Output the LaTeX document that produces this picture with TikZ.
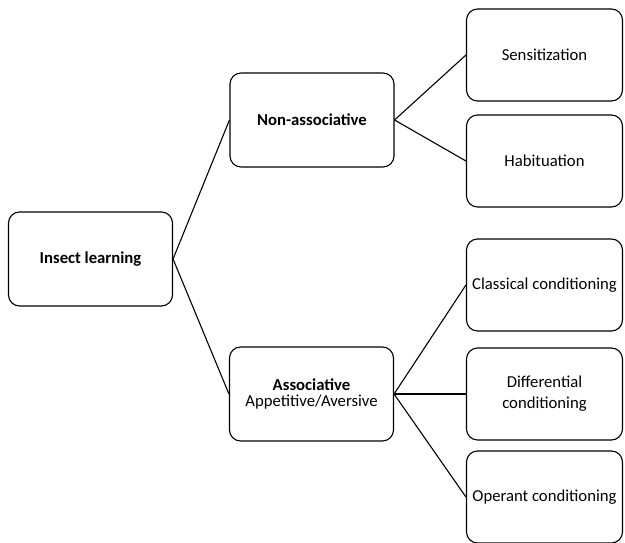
\documentclass[tikz,border=0pt]{standalone}
\usepackage{fontspec}
\setmainfont{Carlito}
\begin{document}
\begin{tikzpicture}[x=1pt,y=-1pt,
	box/.style={draw,line width=1.1pt,rounded corners=11pt,align=center,
		font=\fontsize{16.7}{21}\selectfont,minimum width=164pt,minimum height=94pt,inner sep=2pt},
	leaf/.style={box,minimum width=156pt,minimum height=92pt},
	link/.style={line width=1.1pt}]
	\useasboundingbox (0,0) rectangle (625,543);
	% Root and main branches
	\node[box] (insect) at (90.5,259) {\textbf{Insect learning}};
	\node[box] (nonassoc) at (312,120) {\textbf{Non-associative}};
	\node[box] (assoc) at (311.5,394) {\textbf{Associative}\\[-5pt]Appetitive/Aversive};
	% Leaves
	\node[leaf] (sens) at (544.5,55) {Sensitization};
	\node[leaf] (habit) at (544.5,161) {Habituation};
	\node[leaf] (classical) at (544.5,285) {Classical conditioning};
	\node[leaf] (differential) at (544.5,394) {Differential\\conditioning};
	\node[leaf] (operant) at (544.5,497) {Operant conditioning};
	% Links
	\draw[link] (nonassoc.west) -- (insect.east) -- (assoc.west);
	\foreach \leafname in {sens,habit}{
	\draw[link] (nonassoc.east) -- (\leafname.west);
	}
	\foreach \leafname in {classical,differential,operant}{
	\draw[link] (assoc.east) -- (\leafname.west);
	}
\end{tikzpicture}
\end{document}
